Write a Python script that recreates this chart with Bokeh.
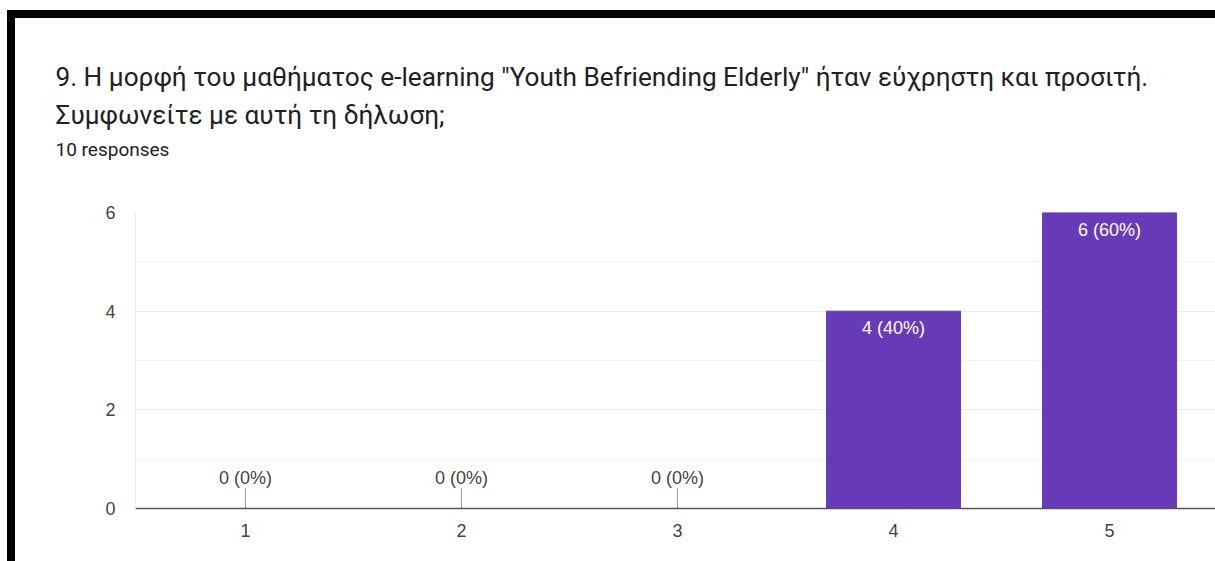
from math import pi
from bokeh.plotting import figure
from bokeh.models import ColumnDataSource, FixedTicker, Title
from bokeh.embed import file_html
from bokeh.resources import INLINE
from bokeh.core.properties import value

# ---- data ----
categories = [1, 2, 3, 4, 5]
counts = [0, 0, 0, 4, 6]
total_responses = 10
title_line1 = '9. Η μορφή του μαθήματος e-learning "Youth Befriending Elderly" ήταν εύχρηστη και προσιτή.'
title_line2 = 'Συμφωνείτε με αυτή τη δήλωση;'
subtitle = '10 responses'
y_ticks = [0, 2, 4, 6]
y_minor_ticks = [1, 3, 5]

labels = [f"{c} ({round(100 * c / total_responses)}%)" for c in counts]

bar_src = ColumnDataSource(dict(
    x=[x for x, c in zip(categories, counts) if c > 0],
    top=[c for c in counts if c > 0],
    label=[l for l, c in zip(labels, counts) if c > 0],
))
zero_src = ColumnDataSource(dict(
    x=[x for x, c in zip(categories, counts) if c == 0],
    y=[c for c in counts if c == 0],
    label=[l for l, c in zip(labels, counts) if c == 0],
))

W, H = 1208, 551
PURPLE = "#673ab7"
LABEL_FONT = "Liberation Sans"

p = figure(width=W, height=H, output_backend="svg", toolbar_location=None,
           x_range=(0.4907, 5.4907), y_range=(0, 6),
           min_border_left=120, min_border_right=8,
           min_border_top=194, min_border_bottom=61)
p.outline_line_color = None
p.background_fill_color = "white"
p.border_fill_color = "white"
p.styles = {"border-top": "8px solid black", "border-left": "8px solid black",
            "margin-top": "10px", "margin-left": "7px"}

# grid
ticker = FixedTicker(ticks=y_ticks, minor_ticks=y_minor_ticks)
p.xgrid.visible = False
p.ygrid.ticker = ticker
p.ygrid.grid_line_color = "#ebebeb"
p.ygrid.minor_grid_line_color = "#f4f4f4"

# bars
p.vbar(x="x", top="top", width=0.62, source=bar_src,
       fill_color=PURPLE, line_color=PURPLE)
p.text(x="x", y="top", text="label", source=bar_src, y_offset=7,
       text_align="center", text_baseline="top",
       text_font=value(LABEL_FONT), text_font_size="18px", text_color="white")

# zero values: stem + label
p.ray(x="x", y="y", length=20, length_units="screen", angle=pi / 2,
      source=zero_src, line_color="#9e9e9e", line_width=1)
p.text(x="x", y="y", text="label", source=zero_src, y_offset=-31,
       text_align="center", text_baseline="alphabetic",
       text_font=value(LABEL_FONT), text_font_size="18px", text_color="#444444")

# axes
p.xaxis.ticker = categories
p.xaxis.axis_line_color = "#555555"
p.xaxis.axis_line_width = 1.5
p.xaxis.major_tick_line_color = None
p.xaxis.minor_tick_line_color = None
p.xaxis.major_tick_out = 0
p.xaxis.major_tick_in = 0
p.xaxis.major_label_standoff = 15
p.xaxis.major_label_text_font = LABEL_FONT
p.xaxis.major_label_text_font_size = "18px"
p.xaxis.major_label_text_color = "#444444"

p.yaxis.ticker = ticker
p.yaxis.axis_line_color = "#ebebeb"
p.yaxis.major_tick_line_color = None
p.yaxis.minor_tick_line_color = None
p.yaxis.major_tick_out = 0
p.yaxis.major_tick_in = 0
p.yaxis.major_label_standoff = 16
p.yaxis.major_label_text_font = LABEL_FONT
p.yaxis.major_label_text_font_size = "18px"
p.yaxis.major_label_text_color = "#444444"

# header texts, stacked above the plot (first added = closest to the plot)
TEXT_X = -80
p.add_layout(Title(text=" ", text_font_size="1px", standoff=49), "above")  # spacer
p.add_layout(Title(text=subtitle, text_font="Roboto", text_font_size="19px",
                   text_color="#202124", text_font_style="normal",
                   align="left", offset=TEXT_X, standoff=0), "above")
p.add_layout(Title(text=title_line2, text_font="Roboto", text_font_size="26.2px",
                   text_color="#202124", text_font_style="normal",
                   align="left", offset=TEXT_X, standoff=12), "above")
p.add_layout(Title(text=title_line1, text_font="Roboto", text_font_size="26.2px",
                   text_color="#202124", text_font_style="normal",
                   align="left", offset=TEXT_X, standoff=0), "above")

open("out.html", "w").write(file_html(p, INLINE))
